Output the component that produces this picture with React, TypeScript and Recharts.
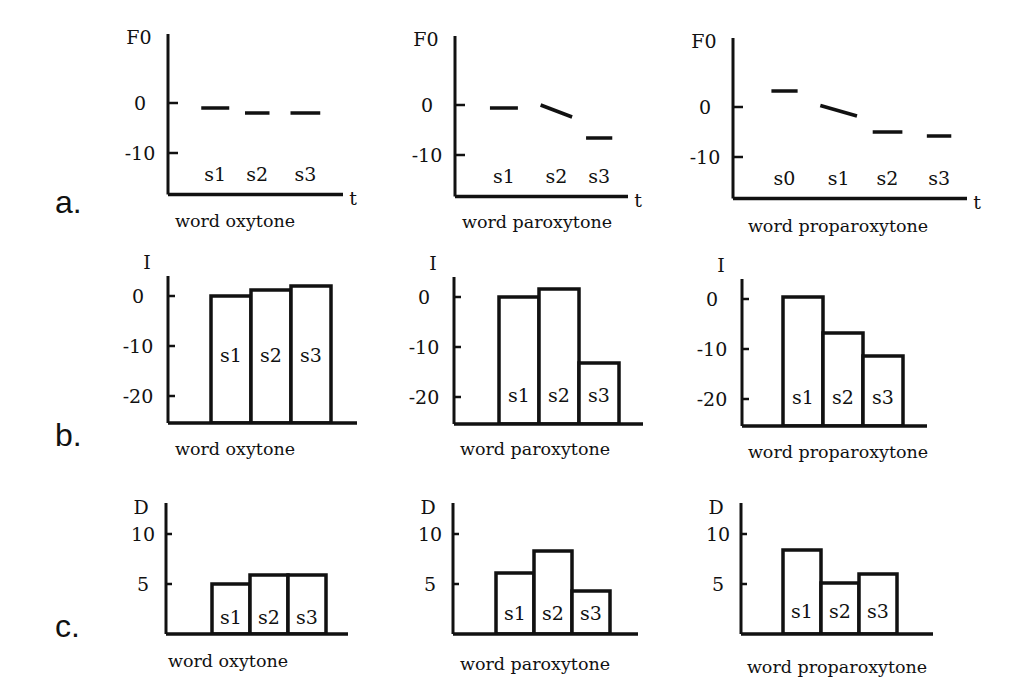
import { Bar, ComposedChart, LabelList, Line, Scatter, XAxis, YAxis } from "recharts";

const INK = "#111";
const FONT = '"DejaVu Serif", serif';

// F0 contours: one straight stretch per syllable, t in arbitrary time units
type F0Segment = { syllable: string; start: number; end: number; from: number; to: number };

const f0Oxytone: F0Segment[] = [
  { syllable: "s1", start: 1.9, end: 3.5, from: -1, to: -1 },
  { syllable: "s2", start: 4.4, end: 5.8, from: -2, to: -2 },
  { syllable: "s3", start: 7.0, end: 8.7, from: -2, to: -2 },
];
const f0Paroxytone: F0Segment[] = [
  { syllable: "s1", start: 2.0, end: 3.6, from: -0.6, to: -0.6 },
  { syllable: "s2", start: 4.9, end: 6.7, from: 0, to: -2.4 },
  { syllable: "s3", start: 7.5, end: 9.0, from: -6.6, to: -6.6 },
];
const f0Proparoxytone: F0Segment[] = [
  { syllable: "s0", start: 2.2, end: 3.7, from: 3.2, to: 3.2 },
  { syllable: "s1", start: 5.0, end: 7.1, from: 0.3, to: -1.8 },
  { syllable: "s2", start: 8.0, end: 9.7, from: -5, to: -5 },
  { syllable: "s3", start: 11.1, end: 12.5, from: -5.8, to: -5.8 },
];
const f0TimeSpans = [10, 9.9, 13.4];

// intensity (I) and duration (D) per syllable
const syllables = ["s1", "s2", "s3"];
const intensityOxytone = [0, 1.2, 2];
const intensityParoxytone = [0, 1.6, -13.2];
const intensityProparoxytone = [0.4, -6.8, -11.4];
const durationOxytone = [5, 5.9, 5.9];
const durationParoxytone = [6.1, 8.3, 4.3];
const durationProparoxytone = [8.4, 5.1, 6];

const wordTypes = ["word oxytone", "word paroxytone", "word proparoxytone"];
const rowLetters = ["a.", "b.", "c."];

const f0Ticks = [0, -10];
const intensityTicks = [0, -10, -20];
const durationTicks = [10, 5];

const F0_DOMAIN: [number, number] = [-18.3, 13.8];
const I_DOMAIN: [number, number] = [-25.4, 4];
const D_DOMAIN: [number, number] = [0, 13.1];
const F0_LABEL_LEVEL = -14.3;

// 5 px per unit for F0 and I, 10 px per unit for D
const F0_PLOT_H = 160.5;
const I_PLOT_H = 147;
const D_PLOT_H = 131;

const AXIS_W = 60;
const TOP_PAD = 26;
const RIGHT_PAD = 26;
const X_AXIS_H = 16;

const rowA = [
  { axisX: 168, plotTop: 34, plotWidth: 175, titleX: 235, titleY: 222 },
  { axisX: 455, plotTop: 36, plotWidth: 173, titleX: 537, titleY: 223 },
  { axisX: 733, plotTop: 38, plotWidth: 234, titleX: 838, titleY: 227 },
];
const rowB = [
  { axisX: 168, plotTop: 276, plotWidth: 189, padLeft: 43, barWidth: 40, labelAt: -11.8, titleX: 235, titleY: 450 },
  { axisX: 454, plotTop: 277, plotWidth: 189, padLeft: 45, barWidth: 40, labelAt: -19.6, titleX: 535, titleY: 450 },
  { axisX: 742, plotTop: 279, plotWidth: 185, padLeft: 41, barWidth: 40, labelAt: -19.6, titleX: 838, titleY: 453 },
];
const rowC = [
  { axisX: 166, plotTop: 503, plotWidth: 182, padLeft: 46, barWidth: 38, labelAt: 1.7, titleX: 228, titleY: 662 },
  { axisX: 453, plotTop: 503, plotWidth: 185, padLeft: 43, barWidth: 38, labelAt: 2.1, titleX: 535, titleY: 665 },
  { axisX: 741, plotTop: 503, plotWidth: 192, padLeft: 42, barWidth: 38, labelAt: 2.3, titleX: 837, titleY: 668 },
];
const letterBaselines = [213, 446, 637];

const textStyle = { fill: INK, fontFamily: FONT, fontSize: 19 };

function renderTick(tickLen: number, labelGap: number) {
  return (props: any) => {
    const { x = 0, y = 0, payload } = props;
    return (
      <g>
        <line x1={x} x2={x + tickLen} y1={y} y2={y} stroke={INK} strokeWidth={2.5} />
        <text x={x - labelGap} y={y} dy="0.36em" textAnchor="middle" {...textStyle}>
          {payload?.value}
        </text>
      </g>
    );
  };
}

function AxisTitle({ viewBox, text, dx, dy }: any) {
  const { x = 0, y = 0, width = 0 } = viewBox ?? {};
  return (
    <text x={x + width + dx} y={y + dy} dy="0.36em" textAnchor="middle" {...textStyle}>
      {text}
    </text>
  );
}

function EndLabel({ viewBox, text }: any) {
  const { x = 0, y = 0, width = 0 } = viewBox ?? {};
  return (
    <text x={x + width + 10} y={y + 4} dy="0.36em" textAnchor="middle" {...textStyle}>
      {text}
    </text>
  );
}

function renderSyllable(props: any) {
  return (
    <text x={props.cx} y={props.cy} dy="0.36em" textAnchor="middle" {...textStyle}>
      {props.payload?.syllable}
    </text>
  );
}

type F0PanelProps = {
  segments: F0Segment[];
  timeSpan: number;
  axisX: number;
  plotTop: number;
  plotWidth: number;
};

function F0Panel({ segments, timeSpan, axisX, plotTop, plotWidth }: F0PanelProps) {
  const labels = segments.map((s) => ({
    t: (s.start + s.end) / 2,
    f0: F0_LABEL_LEVEL,
    syllable: s.syllable,
  }));

  return (
    <div style={{ position: "absolute", left: axisX - AXIS_W, top: plotTop - TOP_PAD }}>
      <ComposedChart
        width={AXIS_W + plotWidth + RIGHT_PAD}
        height={TOP_PAD + F0_PLOT_H + X_AXIS_H}
        margin={{ top: TOP_PAD, right: RIGHT_PAD, bottom: 0, left: 0 }}
      >
        <XAxis
          type="number"
          dataKey="t"
          domain={[0, timeSpan]}
          allowDataOverflow
          tick={false}
          tickLine={false}
          height={X_AXIS_H}
          axisLine={{ stroke: INK, strokeWidth: 3.5 }}
          label={<EndLabel text="t" />}
        />
        <YAxis
          type="number"
          domain={F0_DOMAIN}
          allowDataOverflow
          ticks={f0Ticks}
          width={AXIS_W}
          tickSize={0}
          tickMargin={0}
          tickLine={false}
          axisLine={{ stroke: INK, strokeWidth: 3 }}
          tick={renderTick(10, 28)}
          label={<AxisTitle text="F0" dx={-29} dy={3} />}
        />
        {segments.map((s) => (
          <Line
            key={s.syllable}
            data={[
              { t: s.start, f0: s.from },
              { t: s.end, f0: s.to },
            ]}
            dataKey="f0"
            type="linear"
            stroke={INK}
            strokeWidth={3.5}
            dot={false}
            isAnimationActive={false}
          />
        ))}
        <Scatter data={labels} dataKey="f0" shape={renderSyllable} isAnimationActive={false} />
      </ComposedChart>
    </div>
  );
}

type BarPanelProps = {
  values: number[];
  domain: [number, number];
  ticks: number[];
  plotHeight: number;
  tickLen: number;
  tickGap: number;
  title: string;
  titleDx: number;
  titleDy: number;
  axisX: number;
  plotTop: number;
  plotWidth: number;
  padLeft: number;
  barWidth: number;
  labelAt: number;
};

function BarPanel(p: BarPanelProps) {
  const floor = p.domain[0];
  const pxPerUnit = p.plotHeight / (p.domain[1] - p.domain[0]);
  const data = syllables.map((syllable, i) => ({ syllable, value: p.values[i] }));
  const padRight = p.plotWidth - p.padLeft - 3 * p.barWidth;

  const renderLabel = (props: any) => {
    const box = props.viewBox ?? props;
    const x = Number(box.x ?? props.x);
    const y = Number(box.y ?? props.y);
    const w = Number(box.width ?? props.width);
    const h = Number(box.height ?? props.height);
    const bottom = Math.max(y, y + h);
    return (
      <text
        x={x + w / 2}
        y={bottom - (p.labelAt - floor) * pxPerUnit}
        dy="0.36em"
        textAnchor="middle"
        {...textStyle}
      >
        {props.value}
      </text>
    );
  };

  return (
    <div style={{ position: "absolute", left: p.axisX - AXIS_W, top: p.plotTop - TOP_PAD }}>
      <ComposedChart
        data={data}
        width={AXIS_W + p.plotWidth + RIGHT_PAD}
        height={TOP_PAD + p.plotHeight + X_AXIS_H}
        margin={{ top: TOP_PAD, right: RIGHT_PAD, bottom: 0, left: 0 }}
        barCategoryGap={0}
        barGap={0}
      >
        <XAxis
          type="category"
          dataKey="syllable"
          tick={false}
          tickLine={false}
          height={X_AXIS_H}
          padding={{ left: p.padLeft, right: padRight }}
          axisLine={{ stroke: INK, strokeWidth: 3.5 }}
        />
        <YAxis
          type="number"
          domain={p.domain}
          allowDataOverflow
          ticks={p.ticks}
          width={AXIS_W}
          tickSize={0}
          tickMargin={0}
          tickLine={false}
          axisLine={{ stroke: INK, strokeWidth: 3 }}
          tick={renderTick(p.tickLen, p.tickGap)}
          label={<AxisTitle text={p.title} dx={p.titleDx} dy={p.titleDy} />}
        />
        <Bar
          dataKey={(d: { value: number }) => [floor, d.value]}
          fill="#fff"
          stroke={INK}
          strokeWidth={3.5}
          isAnimationActive={false}
        >
          <LabelList dataKey="syllable" content={renderLabel} />
        </Bar>
      </ComposedChart>
    </div>
  );
}

export default function App() {
  const f0Sets = [f0Oxytone, f0Paroxytone, f0Proparoxytone];
  const intensitySets = [intensityOxytone, intensityParoxytone, intensityProparoxytone];
  const durationSets = [durationOxytone, durationParoxytone, durationProparoxytone];
  const titles = [...rowA, ...rowB, ...rowC].map((panel, i) => ({
    x: panel.titleX,
    y: panel.titleY,
    text: wordTypes[i % 3],
  }));

  return (
    <div
      style={{
        position: "absolute",
        left: 0,
        top: 0,
        width: 1012,
        height: 699,
        background: "#fff",
        overflow: "hidden",
      }}
    >
      <svg width={1012} height={699} style={{ position: "absolute", left: 0, top: 0 }}>
        {rowLetters.map((letter, i) => (
          <text
            key={letter}
            x={55}
            y={letterBaselines[i]}
            fill={INK}
            fontFamily='"Liberation Sans", sans-serif'
            fontSize={32}
          >
            {letter}
          </text>
        ))}
        {titles.map((t, i) => (
          <text key={i} x={t.x} y={t.y + 5} textAnchor="middle" fill={INK} fontFamily={FONT} fontSize={17.5}>
            {t.text}
          </text>
        ))}
      </svg>

      {rowA.map((panel, i) => (
        <F0Panel key={`a${i}`} segments={f0Sets[i]} timeSpan={f0TimeSpans[i]} {...panel} />
      ))}
      {rowB.map((panel, i) => (
        <BarPanel
          key={`b${i}`}
          values={intensitySets[i]}
          domain={I_DOMAIN}
          ticks={intensityTicks}
          plotHeight={I_PLOT_H}
          tickLen={7}
          tickGap={30}
          title="I"
          titleDx={-21}
          titleDy={-14}
          {...panel}
        />
      ))}
      {rowC.map((panel, i) => (
        <BarPanel
          key={`c${i}`}
          values={durationSets[i]}
          domain={D_DOMAIN}
          ticks={durationTicks}
          plotHeight={D_PLOT_H}
          tickLen={6}
          tickGap={23}
          title="D"
          titleDx={-25}
          titleDy={4}
          {...panel}
        />
      ))}
    </div>
  );
}
